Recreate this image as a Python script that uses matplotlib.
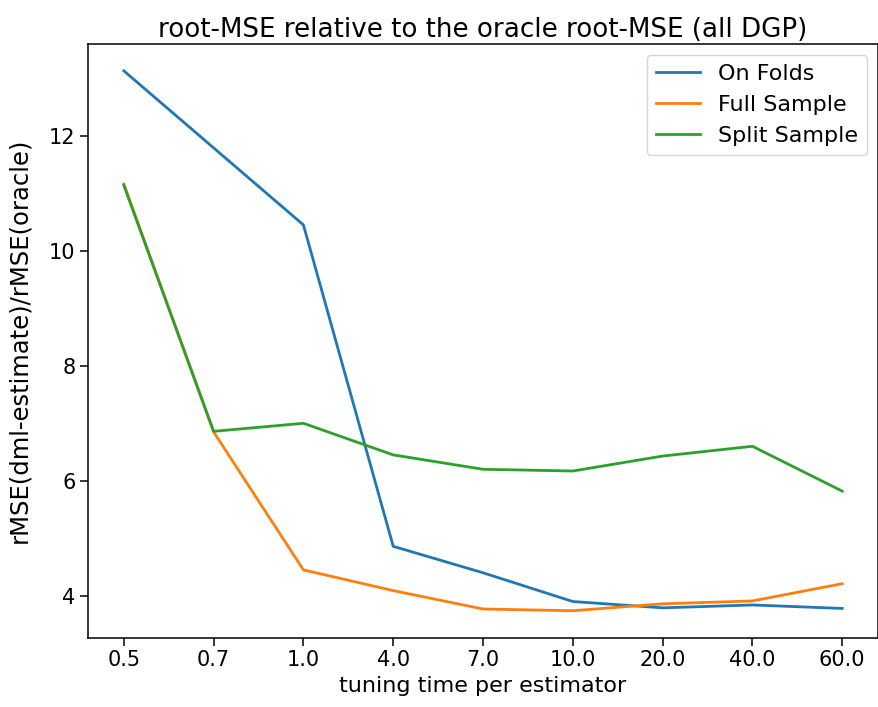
import matplotlib.pyplot as plt

# tuning time budgets (used as categorical labels)
tuning_times = ["0.5", "0.7", "1.0", "4.0", "7.0", "10.0", "20.0", "40.0", "60.0"]

# rMSE(dml-estimate) / rMSE(oracle), averaged over all DGPs
on_folds = [13.13, 11.79, 10.45, 4.86, 4.40, 3.90, 3.79, 3.84, 3.78]
full_sample = [11.16, 6.85, 4.45, 4.09, 3.77, 3.74, 3.86, 3.91, 4.21]
split_sample = [11.14, 6.86, 7.00, 6.45, 6.20, 6.17, 6.43, 6.60, 5.82]

plt.rcParams["font.size"] = 15
plt.rcParams["axes.linewidth"] = 1.1
plt.rcParams["xtick.major.size"] = 5.5
plt.rcParams["ytick.major.size"] = 5.5
plt.rcParams["xtick.major.width"] = 1.1
plt.rcParams["ytick.major.width"] = 1.1

fig = plt.figure(figsize=(8.79, 7.07), dpi=100)
ax = fig.add_axes([0.100, 0.098, 0.899, 0.840])

ax.plot(tuning_times, on_folds, label="On Folds", linewidth=2)
ax.plot(tuning_times, full_sample, label="Full Sample", linewidth=2)
ax.plot(tuning_times, split_sample, label="Split Sample", linewidth=2)

ax.set_title("root-MSE relative to the oracle root-MSE (all DGP)", fontsize=18.8, pad=5)
ax.set_xlabel("tuning time per estimator", fontsize=16)
ax.set_ylabel("rMSE(dml-estimate)/rMSE(oracle)", fontsize=17.5, labelpad=13)
ax.legend(fontsize=16)

fig.savefig("out.png", dpi=100)
